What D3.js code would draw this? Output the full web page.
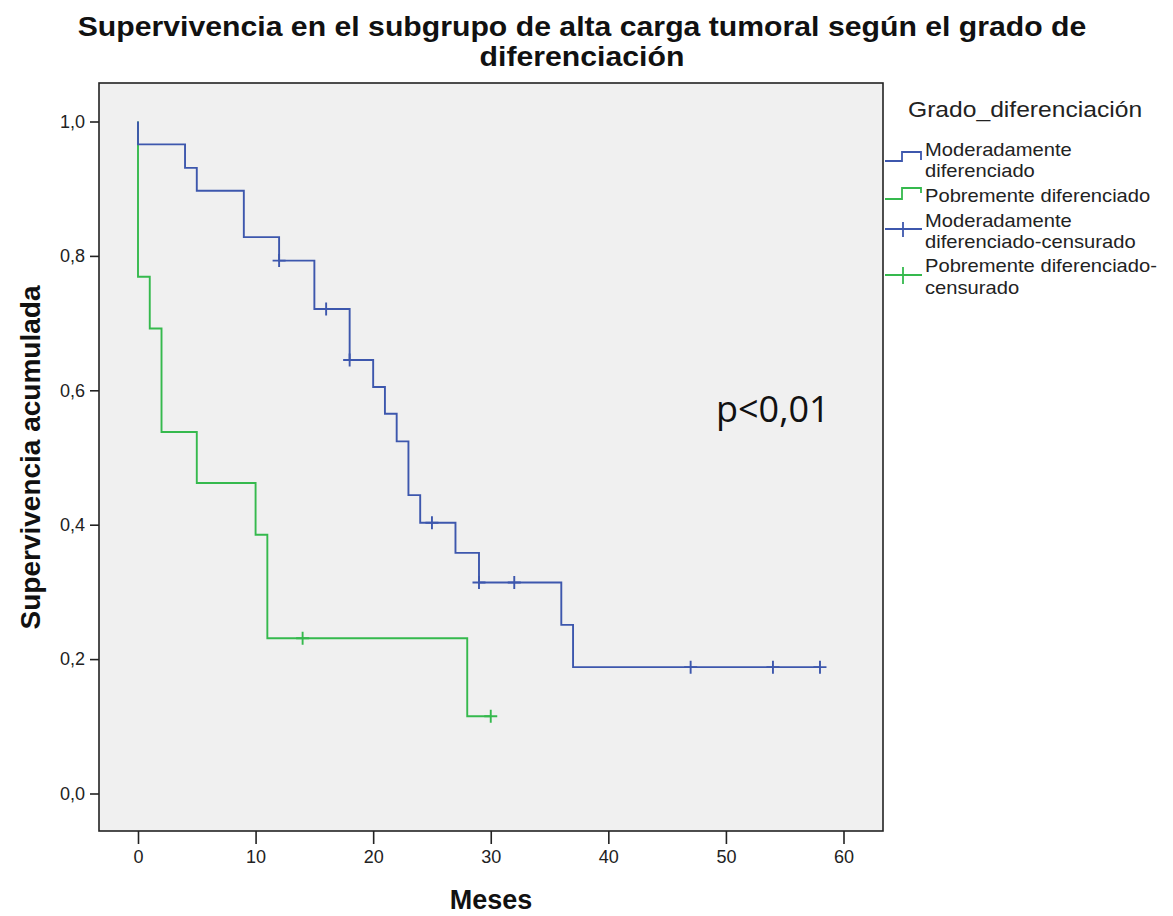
<!DOCTYPE html>
<html>
<head>
<meta charset="utf-8">
<script src="https://d3js.org/d3.v7.min.js"></script>
<style>
	body { margin: 0; background: white; }
	text { font-family: "Liberation Sans", Arial, Helvetica, sans-serif; }
</style>
</head>
<body>
<div id="chart"></div>
<script>
	var colorMod = "#3D57AD";
	var colorPob = "#35B94D";

	// Moderadamente diferenciado : temps (mois) et survie cumulée
	var modTimes = [0, 0, 4, 5, 9, 12, 15, 18, 20, 21, 22, 23, 24, 27, 29, 36, 37, 58];
	var modSurv = [1.0, 0.966, 0.931, 0.897, 0.828, 0.793, 0.721, 0.645, 0.605, 0.565, 0.524, 0.444, 0.403, 0.358, 0.314, 0.251, 0.188, 0.188];
	var modCensTimes = [12, 16, 18, 25, 29, 32, 47, 54, 58];
	var modCensSurv = [0.793, 0.721, 0.645, 0.403, 0.314, 0.314, 0.188, 0.188, 0.188];

	// Pobremente diferenciado
	var pobTimes = [0, 0, 1, 2, 5, 10, 11, 28, 30];
	var pobSurv = [1.0, 0.769, 0.692, 0.538, 0.462, 0.385, 0.231, 0.115, 0.115];
	var pobCensTimes = [14, 30];
	var pobCensSurv = [0.231, 0.115];

	var xTicks = [0, 10, 20, 30, 40, 50, 60];
	var yTicks = [0, 0.2, 0.4, 0.6, 0.8, 1.0];

	var titleLines = ["Supervivencia en el subgrupo de alta carga tumoral según el grado de", "diferenciación"];
	var legendTitle = "Grado_diferenciación";
	var legendLabels = [
		["Moderadamente", "diferenciado"],
		["Pobremente diferenciado"],
		["Moderadamente", "diferenciado-censurado"],
		["Pobremente diferenciado-", "censurado"]
	];

	/* =========================================
	 *  SVG + zone du graphique
	 * ======================================== */
	var svg = d3.select("#chart")
		.append("svg")
		.attr("width", 1173)
		.attr("height", 916);

	var frame = {left: 99, right: 883, top: 83, bottom: 831};

	var x = d3.scaleLinear().domain([0, 60]).range([138, 843.5]);
	var y = d3.scaleLinear().domain([0, 1]).range([793.5, 121.5]);

	svg.append("rect")
		.attr("x", frame.left)
		.attr("y", frame.top)
		.attr("width", frame.right - frame.left)
		.attr("height", frame.bottom - frame.top)
		.attr("fill", "#F0F0F0")
		.attr("stroke", "#222")
		.attr("stroke-width", 1.6);

	// axes
	var fmt = function(d) { return d3.format(".1f")(d).replace(".", ","); };

	var gx = svg.append("g")
		.attr("transform", "translate(0," + frame.bottom + ")")
		.call(d3.axisBottom(x).tickValues(xTicks).tickSize(13).tickSizeOuter(0).tickPadding(6));
	gx.select(".domain").remove();
	gx.selectAll("line").attr("stroke", "#222").attr("stroke-width", 1.6);
	gx.selectAll("text").attr("font-size", 18).attr("fill", "#222").style("font-family", "Liberation Sans, Arial, sans-serif");

	var gy = svg.append("g")
		.attr("transform", "translate(" + frame.left + ",0)")
		.call(d3.axisLeft(y).tickValues(yTicks).tickFormat(fmt).tickSize(9).tickSizeOuter(0).tickPadding(5));
	gy.select(".domain").remove();
	gy.selectAll("line").attr("stroke", "#222").attr("stroke-width", 1.6);
	gy.selectAll("text").attr("font-size", 18).attr("fill", "#222").style("font-family", "Liberation Sans, Arial, sans-serif");

	/* =========================================
	 *  Courbes de Kaplan-Meier
	 * ======================================== */
	var line = d3.line()
		.x(function(d) { return x(d[0]); })
		.y(function(d) { return y(d[1]); })
		.curve(d3.curveStepAfter);

	function drawCurve(times, surv, color) {
		svg.append("path")
			.datum(d3.zip(times, surv))
			.attr("d", line)
			.attr("fill", "none")
			.attr("stroke", color)
			.attr("stroke-width", 1.9);
	}

	function drawCensored(times, surv, color) {
		var g = svg.append("g");
		g.selectAll("path")
			.data(d3.zip(times, surv))
			.enter()
			.append("path")
			.attr("d", function(d) {
				var cx = x(d[0]), cy = y(d[1]);
				return "M" + (cx - 6.5) + "," + cy + "H" + (cx + 6.5) + "M" + cx + "," + (cy - 6.5) + "V" + (cy + 6.5);
			})
			.attr("fill", "none")
			.attr("stroke", color)
			.attr("stroke-width", 1.9);
	}

	drawCurve(pobTimes, pobSurv, colorPob);
	drawCurve(modTimes, modSurv, colorMod);
	drawCensored(pobCensTimes, pobCensSurv, colorPob);
	drawCensored(modCensTimes, modCensSurv, colorMod);

	/* =========================================
	 *  Titres
	 * ======================================== */
	svg.selectAll(".title")
		.data(titleLines)
		.enter()
		.append("text")
		.attr("class", "title")
		.attr("transform", function(d, i) { return "translate(582," + (36 + i * 30) + ") scale(1.06,1)"; })
		.attr("text-anchor", "middle")
		.attr("font-size", 28.5)
		.attr("font-weight", "bold")
		.attr("fill", "#111")
		.text(function(d) { return d; });

	svg.append("text")
		.attr("x", (frame.left + frame.right) / 2)
		.attr("y", 909)
		.attr("text-anchor", "middle")
		.attr("font-size", 27)
		.attr("font-weight", "bold")
		.attr("fill", "#111")
		.text("Meses");

	svg.append("text")
		.attr("transform", "translate(40," + y(0.5) + ") rotate(-90)")
		.attr("text-anchor", "middle")
		.attr("font-size", 28)
		.attr("font-weight", "bold")
		.attr("fill", "#111")
		.text("Supervivencia acumulada");

	svg.append("text")
		.attr("x", 716)
		.attr("y", 422)
		.attr("font-size", 36)
		.attr("fill", "#111")
		.style("font-family", "Open Sans, Noto Sans, sans-serif")
		.text("p<0,01");

	/* =========================================
	 *  Légende
	 * ======================================== */
	svg.append("text")
		.attr("transform", "translate(908,117) scale(1.12,1)")
		.attr("font-size", 22)
		.attr("fill", "#222")
		.text(legendTitle);

	var baselines = [[156, 177], [202], [227, 248], [272, 294]];
	var gl = svg.append("g").attr("transform", "translate(925,0) scale(1.12,1)");
	legendLabels.forEach(function(lines, i) {
		lines.forEach(function(t, j) {
			gl.append("text")
				.attr("x", 0)
				.attr("y", baselines[i][j])
				.attr("font-size", 18)
				.attr("fill", "#222")
				.text(t);
		});
	});

	var symbols = [
		{d: "M885,161H902V152H921V160", c: colorMod},
		{d: "M885,199H902V188H921V193", c: colorPob},
		{d: "M885,229H922M903,222V237", c: colorMod},
		{d: "M885,275H922M903,267V284", c: colorPob}
	];
	svg.selectAll(".sym")
		.data(symbols)
		.enter()
		.append("path")
		.attr("class", "sym")
		.attr("d", function(d) { return d.d; })
		.attr("fill", "none")
		.attr("stroke", function(d) { return d.c; })
		.attr("stroke-width", 1.8);
</script>
</body>
</html>
